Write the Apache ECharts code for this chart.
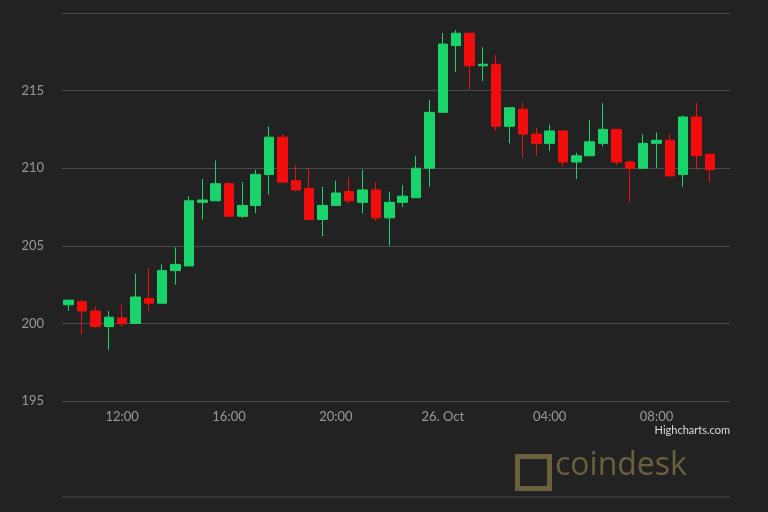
<!DOCTYPE html>
<html><head><meta charset="utf-8">
<script src="https://cdn.jsdelivr.net/npm/echarts@6/dist/echarts.min.js"></script>
<style>html,body{margin:0;background:#222;}#c{width:768px;height:512px;}</style>
</head><body><div id="c"></div>
<script>
const times = ["10:00","10:30","11:00","11:30","12:00","12:30","13:00","13:30","14:00","14:30","15:00","15:30","16:00","16:30","17:00","17:30","18:00","18:30","19:00","19:30","20:00","20:30","21:00","21:30","22:00","22:30","23:00","23:30","00:00","00:30","01:00","01:30","02:00","02:30","03:00","03:30","04:00","04:30","05:00","05:30","06:00","06:30","07:00","07:30","08:00","08:30","09:00","09:30","10:00"];
const tickLabels = {"12:00":"12:00","16:00":"16:00","20:00":"20:00","00:00":"26. Oct","04:00":"04:00","08:00":"08:00"};
// [open, close, low, high]
const ohlc = [
[201.2,201.5,200.8,201.5],[201.4,200.8,199.3,201.5],[200.8,199.8,199.7,201.1],[199.8,200.4,198.3,200.8],
[200.35,199.97,199.8,201.2],[200.0,201.7,200.0,203.2],[201.6,201.3,200.8,203.6],[201.3,203.4,201.3,203.8],
[203.4,203.8,202.5,204.9],[203.7,207.9,203.7,208.2],[207.8,207.95,206.7,209.3],[207.9,209.0,207.9,210.5],
[209.0,206.9,206.9,209.1],[206.9,207.6,206.8,209.1],[207.6,209.6,207.1,209.9],[209.6,212.0,208.3,212.7],
[212.0,209.1,209.1,212.2],[209.2,208.6,208.5,210.2],[208.7,206.7,206.7,210.0],[206.7,207.6,205.6,208.8],
[207.6,208.4,207.6,209.2],[208.5,207.9,207.7,209.4],[207.8,208.6,207.1,209.9],[208.6,206.8,206.6,209.1],
[206.8,207.8,205.0,208.5],[207.8,208.2,207.5,208.9],[208.1,210.0,208.1,210.8],[210.0,213.6,208.8,214.4],
[213.6,218.0,213.6,218.7],[217.9,218.7,216.2,218.9],[218.7,216.6,215.1,218.7],[216.6,216.7,215.6,217.8],
[216.7,212.7,212.4,217.3],[212.7,213.9,211.6,213.9],[213.8,212.2,210.7,214.2],[212.2,211.6,210.8,212.6],
[211.6,212.4,211.1,212.8],[212.4,210.4,210.1,212.4],[210.4,210.8,209.3,211.0],[210.8,211.7,210.8,213.1],
[211.6,212.5,211.4,214.2],[212.5,210.4,210.2,212.5],[210.4,210.0,207.8,210.5],[210.0,211.6,210.0,212.2],
[211.6,211.8,210.0,212.3],[211.8,209.5,209.5,212.2],[209.6,213.3,208.8,213.4],[213.3,210.8,209.9,214.2],
[210.9,209.9,209.1,210.9]];
const yTicks = [195,200,205,210,215,220];
const cats = times.concat(['']);
const chart = echarts.init(document.getElementById('c'));
chart.setOption({
  backgroundColor:'#222222',
  animation:false,
  grid:{left:62,right:38,top:13,bottom:111},
  xAxis:{type:'category',data:cats,boundaryGap:true,
    axisLine:{show:false},axisTick:{show:false},splitLine:{show:false},
    axisLabel:{color:'#999',fontSize:13,fontFamily:'Lato',margin:9,
      interval:(i,v)=>tickLabels[v]!==undefined && i<times.length-1,
      formatter:v=>tickLabels[v]||''}},
  yAxis:{type:'value',min:yTicks[0],max:yTicks[yTicks.length-1],interval:5,
    axisLine:{show:false},axisTick:{show:false},
    splitLine:{lineStyle:{color:'#4a4a4a',width:1}},
    axisLabel:{color:'#999',fontSize:13,fontFamily:'Lato',margin:18,
      formatter:v=>v===220?'':v}},
  series:[{type:'candlestick',data:ohlc.concat(['-']),barWidth:10,
    itemStyle:{color:'#19d46b',color0:'#f20d0d',borderColor:'#19d46b',borderColor0:'#f20d0d',borderWidth:1}}],
  graphic:[
    {type:'text',right:38,top:425,style:{text:'Highcharts.com',fill:'#ddd',fontSize:11,fontFamily:'Lato'}},
    {type:'text',left:555,top:450,style:{text:'coindesk',fill:'#6b5f3c',fontSize:32,fontFamily:'Open Sans'}},
    {type:'rect',left:515,top:454,shape:{width:32,height:32},style:{fill:'none',stroke:'#6b5f3c',lineWidth:5}},
    {type:'line',shape:{x1:62,y1:497,x2:730,y2:497},style:{stroke:'#4a4a4a',lineWidth:1}}
  ]
});
</script></body></html>
